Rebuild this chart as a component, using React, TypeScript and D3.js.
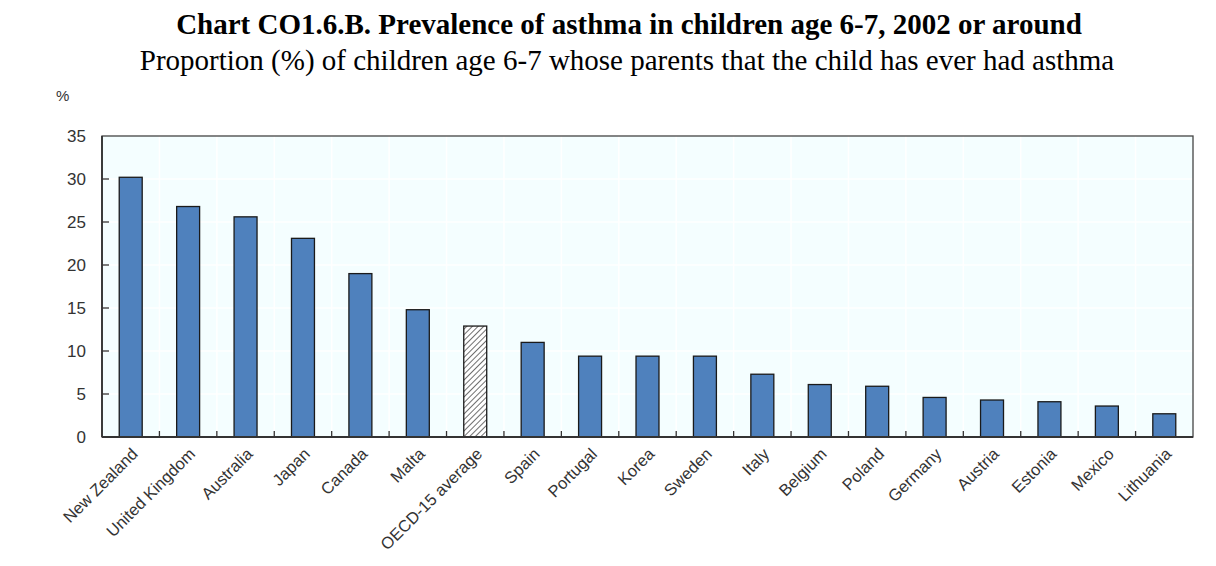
import React, { useEffect, useRef } from 'react';
import * as d3 from 'd3';

const countries = [
  'New Zealand', 'United Kingdom', 'Australia', 'Japan', 'Canada', 'Malta',
  'OECD-15 average', 'Spain', 'Portugal', 'Korea', 'Sweden', 'Italy', 'Belgium',
  'Poland', 'Germany', 'Austria', 'Estonia', 'Mexico', 'Lithuania',
];
const values = [
  30.2, 26.8, 25.6, 23.1, 19.0, 14.8, 12.9, 11.0, 9.4, 9.4, 9.4, 7.3, 6.1,
  5.9, 4.6, 4.3, 4.1, 3.6, 2.7,
];
const yTicks = [0, 5, 10, 15, 20, 25, 30, 35];
const averageLabel = 'OECD-15 average';

const W = 1216;
const H = 566;

const App: React.FC = () => {
  const ref = useRef<SVGSVGElement>(null);

  useEffect(() => {
    if (!ref.current) return;
    const svg = d3.select(ref.current);
    svg.selectAll('*').remove();

    const margin = { top: 136, right: 23, bottom: 129, left: 102 };
    const width = W - margin.left - margin.right;
    const height = H - margin.top - margin.bottom;

    const defs = svg.append('defs');
    const pat = defs.append('pattern')
      .attr('id', 'hatch')
      .attr('patternUnits', 'userSpaceOnUse')
      .attr('width', 4)
      .attr('height', 4)
      .attr('patternTransform', 'rotate(45)');
    pat.append('rect').attr('width', 4).attr('height', 4).attr('fill', '#fff');
    pat.append('line').attr('x1', 0).attr('y1', 0).attr('x2', 0).attr('y2', 4)
      .attr('stroke', '#222').attr('stroke-width', 1.3);

    const serif = '"Liberation Serif", "Times New Roman", serif';
    svg.append('text')
      .attr('x', W / 2 + 21).attr('y', 34)
      .attr('text-anchor', 'middle')
      .style('font-family', serif)
      .style('font-weight', 'bold')
      .style('font-size', '29px')
      .text('Chart CO1.6.B. Prevalence of asthma in children age 6-7, 2002 or around');
    svg.append('text')
      .attr('x', W / 2 + 19).attr('y', 70)
      .attr('text-anchor', 'middle')
      .style('font-family', serif)
      .style('font-size', '29px')
      .text('Proportion (%) of children age 6-7 whose parents that the child has ever had asthma');

    const g = svg.append('g').attr('transform', `translate(${margin.left},${margin.top})`);

    const x = d3.scaleBand().domain(countries).range([0, width]).paddingInner(0.6).paddingOuter(0.3);
    const y = d3.scaleLinear().domain([0, 35]).range([height, 0]);
    const step = x.step();
    const bandStart = (c: string) => x(c)! - step * 0.3;

    g.append('rect').attr('width', width).attr('height', height).attr('fill', '#F4FEFF');

    // gridlines
    g.selectAll('.hgrid').data(yTicks.slice(1, -1)).join('line')
      .attr('x1', 0).attr('x2', width)
      .attr('y1', d => y(d)).attr('y2', d => y(d))
      .attr('stroke', '#fff').attr('stroke-width', 1.5);
    g.selectAll('.vgrid').data(countries.slice(1)).join('line')
      .attr('x1', d => bandStart(d)).attr('x2', d => bandStart(d))
      .attr('y1', 0).attr('y2', height)
      .attr('stroke', '#fff').attr('stroke-width', 1.5);

    g.selectAll('.bar').data(countries).join('rect')
      .attr('x', d => x(d)!)
      .attr('y', (d, i) => y(values[i]))
      .attr('width', x.bandwidth())
      .attr('height', (d, i) => height - y(values[i]))
      .attr('fill', d => (d === averageLabel ? 'url(#hatch)' : '#4F81BD'))
      .attr('stroke', '#1a1a1a')
      .attr('stroke-width', 1.3);

    // ticks inside
    g.selectAll('.yt').data(yTicks.slice(1, -1)).join('line')
      .attr('x1', 0).attr('x2', 7)
      .attr('y1', d => y(d)).attr('y2', d => y(d))
      .attr('stroke', '#333').attr('stroke-width', 1.3);
    g.selectAll('.xt').data(countries.slice(1)).join('line')
      .attr('x1', d => bandStart(d)).attr('x2', d => bandStart(d))
      .attr('y1', height).attr('y2', height - 6)
      .attr('stroke', '#333').attr('stroke-width', 1.3);

    g.append('rect').attr('width', width).attr('height', height)
      .attr('fill', 'none').attr('stroke', '#444').attr('stroke-width', 1.3);
    g.append('line').attr('x1', 0).attr('x2', width).attr('y1', height).attr('y2', height)
      .attr('stroke', '#333').attr('stroke-width', 1.8);
    g.append('line').attr('x1', 0).attr('x2', 0).attr('y1', 0).attr('y2', height)
      .attr('stroke', '#333').attr('stroke-width', 1.8);

    const font = '"Liberation Sans", Arial, sans-serif';
    g.selectAll('.yl').data(yTicks).join('text')
      .attr('x', -16).attr('y', d => y(d)).attr('dy', '0.35em')
      .attr('text-anchor', 'end')
      .style('font-family', font).style('font-size', '17px').attr('fill', '#333')
      .text(d => d);

    g.append('text').attr('x', -46).attr('y', -35)
      .style('font-family', font).style('font-size', '15px').attr('fill', '#333')
      .text('%');

    g.selectAll('.xl').data(countries).join('text')
      .attr('transform', d => `translate(${x(d)! + x.bandwidth() / 2 + 4},${height + 14}) rotate(-45)`)
      .attr('text-anchor', 'end')
      .attr('dy', '0.35em')
      .style('font-family', font).style('font-size', '16.5px').attr('fill', '#333')
      .text(d => d);
  }, []);

  return <svg ref={ref} width={W} height={H} style={{ display: 'block', margin: -8 }} />;
};

export default App;
